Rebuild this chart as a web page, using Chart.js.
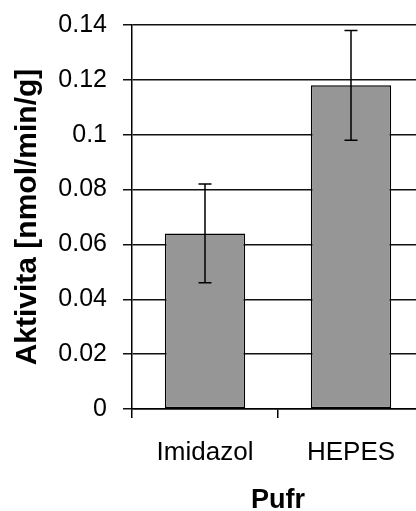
<!DOCTYPE html>
<html>
<head>
<meta charset="utf-8">
<script src="https://cdn.jsdelivr.net/npm/chart.js@4/dist/chart.umd.min.js"></script>
<style>
  html, body { margin: 0; padding: 0; background: #fff; overflow: hidden; }
  #wrap { position: absolute; left: 0; top: 0; width: 440px; height: 511px; }
</style>
</head>
<body>
<div id="wrap"><canvas id="c"></canvas></div>
<script>
// Buffer categories and measured activity (mean ± SD)
const buffers = ['Imidazol', 'HEPES'];
const activity = [0.064, 0.118];
const activityErr = [0.018, 0.020];

// Value axis
const yMin = 0;
const yMax = 0.14;
const yStep = 0.02;

const FONT = "'Liberation Sans', Arial, sans-serif";

// Draws symmetric error bars on top of each bar, using the value scale
const errorBars = {
  id: 'errorBars',
  afterDatasetsDraw(chart) {
    const ctx = chart.ctx;
    const yScale = chart.scales.y;
    const meta = chart.getDatasetMeta(0);
    ctx.save();
    ctx.strokeStyle = '#000';
    ctx.lineWidth = 1.5;
    meta.data.forEach((bar, i) => {
      const x = bar.x;
      const top = yScale.getPixelForValue(activity[i] + activityErr[i]);
      const bot = yScale.getPixelForValue(activity[i] - activityErr[i]);
      const cap = 6.5;
      ctx.beginPath();
      ctx.moveTo(x, top); ctx.lineTo(x, bot);
      ctx.moveTo(x - cap, top); ctx.lineTo(x + cap, top);
      ctx.moveTo(x - cap, bot); ctx.lineTo(x + cap, bot);
      ctx.stroke();
    });
    ctx.restore();
  }
};

new Chart(document.getElementById('c'), {
  type: 'bar',
  data: {
    labels: buffers,
    datasets: [{
      data: activity,
      backgroundColor: '#969696',
      borderColor: '#000',
      borderWidth: 1.5,
      borderSkipped: false,
      categoryPercentage: 1.0,
      barPercentage: 0.55
    }]
  },
  options: {
    responsive: true,
    maintainAspectRatio: false,
    animation: false,
    layout: { padding: { top: 25, right: 16, left: 0, bottom: 0 } },
    plugins: { legend: { display: false }, tooltip: { enabled: false } },
    scales: {
      x: {
        offset: true,
        grid: {
          offset: true,
          drawOnChartArea: false,
          drawTicks: true,
          tickLength: 9,
          color: '#000',
          lineWidth: 1.5
        },
        border: { color: '#000', width: 1.5 },
        ticks: {
          color: '#000',
          padding: 19,
          font: { family: FONT, size: 26 }
        },
        title: {
          display: true,
          text: 'Pufr',
          color: '#000',
          font: { family: FONT, size: 27, weight: 'bold', lineHeight: 0.8 },
          padding: { top: 0, bottom: 0 }
        },
        afterFit(s) { s.height = 102; s.paddingLeft = 0; s.paddingRight = 0; }
      },
      y: {
        min: yMin,
        max: yMax,
        grid: {
          color: '#111',
          lineWidth: 1.5,
          tickLength: 9
        },
        border: { color: '#000', width: 1.5 },
        ticks: {
          stepSize: yStep,
          color: '#000',
          padding: 16,
          font: { family: FONT, size: 25 },
          callback: v => String(Number(v.toFixed(2)))
        },
        title: {
          display: true,
          text: 'Aktivita [nmol/min/g]',
          color: '#000',
          font: { family: FONT, size: 30, weight: 'bold', lineHeight: 1.0 },
          padding: { top: 13, bottom: 0 }
        },
        afterFit(s) { s.width = 132; s.paddingTop = 0; s.paddingBottom = 0; }
      }
    }
  },
  plugins: [errorBars]
});
</script>
</body>
</html>
